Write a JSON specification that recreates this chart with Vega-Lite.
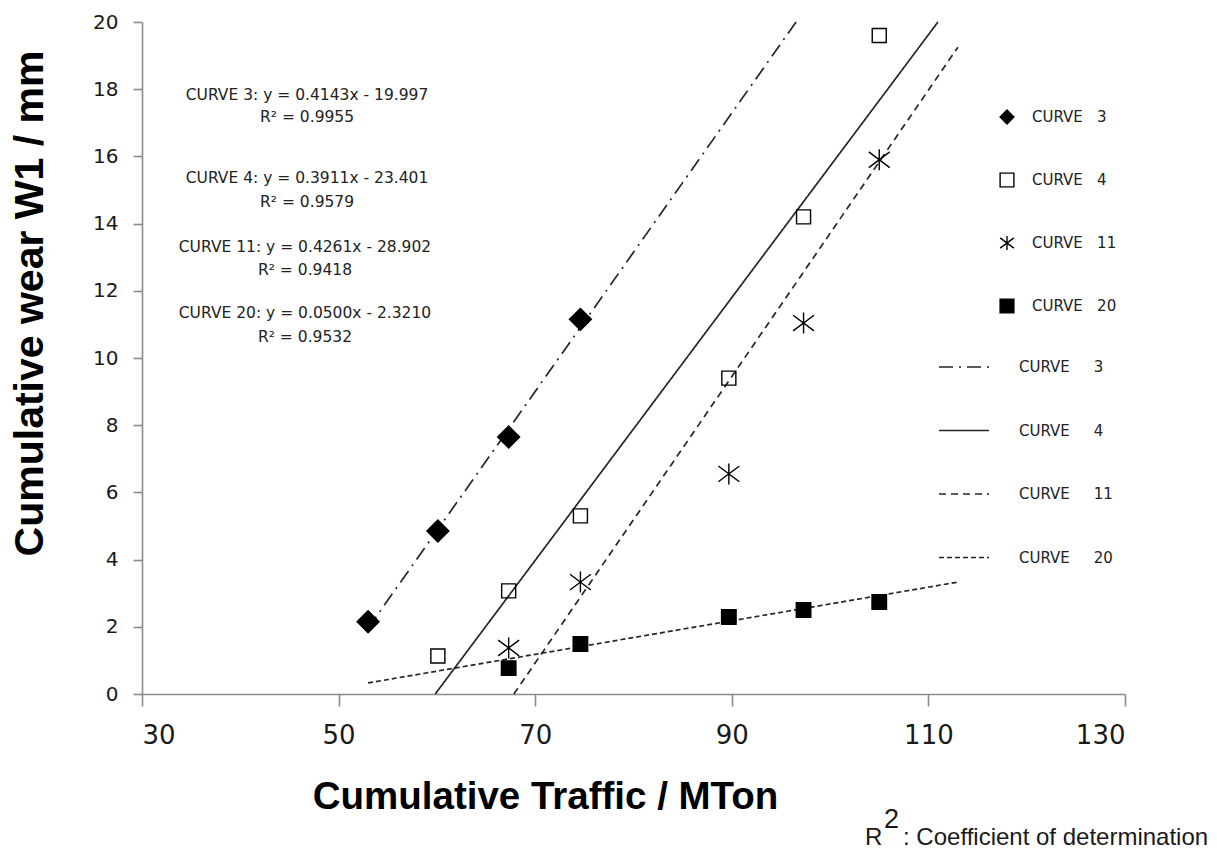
{
  "$schema": "https://vega.github.io/schema/vega-lite/v6.json",
  "width": 983,
  "height": 672,
  "autosize": {"type": "none"},
  "padding": {"left": 142, "top": 22, "right": 92, "bottom": 156},
  "background": "white",
  "config": {
    "view": {"stroke": null},
    "axis": {"grid": false},
    "legend": {"title": null, "orient": "none", "legendX": 857, "legendY": 87, "padding": 0, "symbolSize": 190, "symbolStrokeColor": "black", "symbolStrokeWidth": 1.4, "labelOffset": 17, "labelFont": "DejaVu Sans", "labelFontSize": 15, "labelColor": "#222222", "rowPadding": 43, "labelLimit": 300}
  },
  "datasets": {
    "pts": [
      {"x": 53.0, "y": 2.15, "c": "CURVE\u00a0\u00a0\u00a03"},
      {"x": 60.1, "y": 4.85, "c": "CURVE\u00a0\u00a0\u00a03"},
      {"x": 67.3, "y": 7.65, "c": "CURVE\u00a0\u00a0\u00a03"},
      {"x": 74.6, "y": 11.15, "c": "CURVE\u00a0\u00a0\u00a03"},
      {"x": 60.1, "y": 1.13, "c": "CURVE\u00a0\u00a0\u00a04"},
      {"x": 67.3, "y": 3.07, "c": "CURVE\u00a0\u00a0\u00a04"},
      {"x": 74.6, "y": 5.3, "c": "CURVE\u00a0\u00a0\u00a04"},
      {"x": 89.7, "y": 9.4, "c": "CURVE\u00a0\u00a0\u00a04"},
      {"x": 97.3, "y": 14.2, "c": "CURVE\u00a0\u00a0\u00a04"},
      {"x": 105.0, "y": 19.6, "c": "CURVE\u00a0\u00a0\u00a04"},
      {"x": 67.3, "y": 1.37, "c": "CURVE\u00a0\u00a0\u00a011"},
      {"x": 74.6, "y": 3.33, "c": "CURVE\u00a0\u00a0\u00a011"},
      {"x": 89.7, "y": 6.55, "c": "CURVE\u00a0\u00a0\u00a011"},
      {"x": 97.3, "y": 11.04, "c": "CURVE\u00a0\u00a0\u00a011"},
      {"x": 105.0, "y": 15.9, "c": "CURVE\u00a0\u00a0\u00a011"},
      {"x": 67.3, "y": 0.77, "c": "CURVE\u00a0\u00a0\u00a020"},
      {"x": 74.6, "y": 1.49, "c": "CURVE\u00a0\u00a0\u00a020"},
      {"x": 89.7, "y": 2.29, "c": "CURVE\u00a0\u00a0\u00a020"},
      {"x": 97.3, "y": 2.5, "c": "CURVE\u00a0\u00a0\u00a020"},
      {"x": 105.0, "y": 2.74, "c": "CURVE\u00a0\u00a0\u00a020"}
    ],
    "fits": [
      {"x": 53.0, "y": 1.96, "f": "CURVE\u00a0\u00a0\u00a0\u00a0\u00a03"},
      {"x": 96.54, "y": 20.0, "f": "CURVE\u00a0\u00a0\u00a0\u00a0\u00a03"},
      {"x": 59.83, "y": 0.0, "f": "CURVE\u00a0\u00a0\u00a0\u00a0\u00a04"},
      {"x": 110.97, "y": 20.0, "f": "CURVE\u00a0\u00a0\u00a0\u00a0\u00a04"},
      {"x": 67.83, "y": 0.0, "f": "CURVE\u00a0\u00a0\u00a0\u00a0\u00a011"},
      {"x": 113.0, "y": 19.25, "f": "CURVE\u00a0\u00a0\u00a0\u00a0\u00a011"},
      {"x": 53.0, "y": 0.33, "f": "CURVE\u00a0\u00a0\u00a0\u00a0\u00a020"},
      {"x": 113.0, "y": 3.33, "f": "CURVE\u00a0\u00a0\u00a0\u00a0\u00a020"}
    ],
    "notes": [
      {"x": 46.79, "y": 17.83, "t": "CURVE  3: y = 0.4143x  - 19.997"},
      {"x": 46.79, "y": 17.18, "t": "R² = 0.9955"},
      {"x": 46.79, "y": 15.35, "t": "CURVE  4: y = 0.3911x  - 23.401"},
      {"x": 46.79, "y": 14.65, "t": "R² = 0.9579"},
      {"x": 46.58, "y": 13.31, "t": "CURVE  11: y = 0.4261x  - 28.902"},
      {"x": 46.58, "y": 12.62, "t": "R² = 0.9418"},
      {"x": 46.58, "y": 11.33, "t": "CURVE  20: y = 0.0500x  - 2.3210"},
      {"x": 46.58, "y": 10.63, "t": "R² = 0.9532"}
    ],
    "foot": [
      {"x": 103.55, "y": -4.49, "t": "R"},
      {"x": 107.42, "y": -4.49, "t": ": Coefficient of determination"}
    ],
    "sup": [
      {"x": 105.48, "y": -3.99, "t": "2"}
    ]
  },
  "encoding": {
    "x": {
      "field": "x",
      "type": "quantitative",
      "scale": {"domain": [30, 130], "nice": false, "zero": false},
      "axis": {
        "title": "Cumulative Traffic / MTon",
        "values": [30, 50, 70, 90, 110, 130],
        "domainColor": "#8a8a8a",
        "domainWidth": 1.6,
        "tickColor": "#8a8a8a",
        "tickWidth": 1.6,
        "tickSize": 12,
        "labelFont": "DejaVu Sans",
        "labelFontSize": 26,
        "labelColor": "#1a1a1a",
        "labelPadding": 16,
        "titleFont": "Liberation Sans",
        "titleFontWeight": "bold",
        "titleFontSize": 38.5,
        "titleColor": "black",
        "titleX": 403,
        "titleY": 114,
        "titleAlign": "center",
        "titleBaseline": "alphabetic"
      }
    },
    "y": {
      "field": "y",
      "type": "quantitative",
      "scale": {"domain": [0, 20], "nice": false},
      "axis": {
        "title": "Cumulative wear W1 / mm",
        "values": [0, 2, 4, 6, 8, 10, 12, 14, 16, 18, 20],
        "domainColor": "#8a8a8a",
        "domainWidth": 1.6,
        "tickColor": "#8a8a8a",
        "tickWidth": 1.6,
        "tickSize": 9,
        "labelFont": "DejaVu Sans",
        "labelFontSize": 20,
        "labelColor": "#1a1a1a",
        "labelPadding": 15,
        "titleFont": "Liberation Sans",
        "titleFontWeight": "bold",
        "titleFontSize": 41,
        "titleColor": "black",
        "titleAngle": 270,
        "titleX": -100,
        "titleY": 281,
        "titleAlign": "center",
        "titleBaseline": "alphabetic"
      }
    }
  },
  "layer": [
    {
      "data": {"name": "fits"},
      "mark": {"type": "line", "color": "#262626", "strokeWidth": 1.7},
      "encoding": {
        "strokeDash": {
          "field": "f",
          "type": "nominal",
          "scale": {
            "domain": ["CURVE\u00a0\u00a0\u00a0\u00a0\u00a03", "CURVE\u00a0\u00a0\u00a0\u00a0\u00a04", "CURVE\u00a0\u00a0\u00a0\u00a0\u00a011", "CURVE\u00a0\u00a0\u00a0\u00a0\u00a020"],
            "range": [[14, 6, 2, 6], [1, 0], [7, 5], [5, 3]]
          },
          "legend": {
            "title": null,
            "orient": "none",
            "legendX": 796,
            "legendY": 319,
            "padding": 0,
            "symbolType": "stroke",
            "symbolSize": 2500,
            "symbolStrokeColor": "#262626",
            "symbolStrokeWidth": 1.7,
            "labelOffset": 29,
            "labelFont": "DejaVu Sans",
            "labelFontSize": 15,
            "labelColor": "#222222",
            "rowPadding": 29.5,
            "labelLimit": 300
          }
        }
      }
    },
    {
      "data": {"name": "pts"},
      "transform": [{"filter": {"field": "c", "equal": "CURVE\u00a0\u00a0\u00a03"}}],
      "mark": {"type": "point", "filled": true, "strokeWidth": 1.4, "opacity": 1, "size": 480},
      "encoding": {
        "shape": {"field": "c", "type": "nominal", "scale": {"domain": ["CURVE\u00a0\u00a0\u00a03", "CURVE\u00a0\u00a0\u00a04", "CURVE\u00a0\u00a0\u00a011", "CURVE\u00a0\u00a0\u00a020"], "range": ["diamond", "square", "M0,-1L0,1M-1,-0.75L1,0.75M-1,0.75L1,-0.75", "square"]}},
        "fill": {"field": "c", "type": "nominal", "scale": {"domain": ["CURVE\u00a0\u00a0\u00a03", "CURVE\u00a0\u00a0\u00a04", "CURVE\u00a0\u00a0\u00a011", "CURVE\u00a0\u00a0\u00a020"], "range": ["black", "transparent", "black", "black"]}},
        "stroke": {"field": "c", "type": "nominal", "scale": {"domain": ["CURVE\u00a0\u00a0\u00a03", "CURVE\u00a0\u00a0\u00a04", "CURVE\u00a0\u00a0\u00a011", "CURVE\u00a0\u00a0\u00a020"], "range": ["black", "black", "black", "black"]}}
      }
    },
    {
      "data": {"name": "pts"},
      "transform": [{"filter": {"field": "c", "equal": "CURVE\u00a0\u00a0\u00a04"}}],
      "mark": {"type": "point", "filled": true, "strokeWidth": 1.4, "opacity": 1, "size": 196},
      "encoding": {
        "shape": {"field": "c", "type": "nominal", "scale": {"domain": ["CURVE\u00a0\u00a0\u00a03", "CURVE\u00a0\u00a0\u00a04", "CURVE\u00a0\u00a0\u00a011", "CURVE\u00a0\u00a0\u00a020"], "range": ["diamond", "square", "M0,-1L0,1M-1,-0.75L1,0.75M-1,0.75L1,-0.75", "square"]}},
        "fill": {"field": "c", "type": "nominal", "scale": {"domain": ["CURVE\u00a0\u00a0\u00a03", "CURVE\u00a0\u00a0\u00a04", "CURVE\u00a0\u00a0\u00a011", "CURVE\u00a0\u00a0\u00a020"], "range": ["black", "transparent", "black", "black"]}},
        "stroke": {"field": "c", "type": "nominal", "scale": {"domain": ["CURVE\u00a0\u00a0\u00a03", "CURVE\u00a0\u00a0\u00a04", "CURVE\u00a0\u00a0\u00a011", "CURVE\u00a0\u00a0\u00a020"], "range": ["black", "black", "black", "black"]}}
      }
    },
    {
      "data": {"name": "pts"},
      "transform": [{"filter": {"field": "c", "equal": "CURVE\u00a0\u00a0\u00a011"}}],
      "mark": {"type": "point", "filled": true, "strokeWidth": 1.4, "opacity": 1, "size": 440},
      "encoding": {
        "shape": {"field": "c", "type": "nominal", "scale": {"domain": ["CURVE\u00a0\u00a0\u00a03", "CURVE\u00a0\u00a0\u00a04", "CURVE\u00a0\u00a0\u00a011", "CURVE\u00a0\u00a0\u00a020"], "range": ["diamond", "square", "M0,-1L0,1M-1,-0.75L1,0.75M-1,0.75L1,-0.75", "square"]}},
        "fill": {"field": "c", "type": "nominal", "scale": {"domain": ["CURVE\u00a0\u00a0\u00a03", "CURVE\u00a0\u00a0\u00a04", "CURVE\u00a0\u00a0\u00a011", "CURVE\u00a0\u00a0\u00a020"], "range": ["black", "transparent", "black", "black"]}},
        "stroke": {"field": "c", "type": "nominal", "scale": {"domain": ["CURVE\u00a0\u00a0\u00a03", "CURVE\u00a0\u00a0\u00a04", "CURVE\u00a0\u00a0\u00a011", "CURVE\u00a0\u00a0\u00a020"], "range": ["black", "black", "black", "black"]}}
      }
    },
    {
      "data": {"name": "pts"},
      "transform": [{"filter": {"field": "c", "equal": "CURVE\u00a0\u00a0\u00a020"}}],
      "mark": {"type": "point", "filled": true, "strokeWidth": 1.4, "opacity": 1, "size": 210},
      "encoding": {
        "shape": {"field": "c", "type": "nominal", "scale": {"domain": ["CURVE\u00a0\u00a0\u00a03", "CURVE\u00a0\u00a0\u00a04", "CURVE\u00a0\u00a0\u00a011", "CURVE\u00a0\u00a0\u00a020"], "range": ["diamond", "square", "M0,-1L0,1M-1,-0.75L1,0.75M-1,0.75L1,-0.75", "square"]}},
        "fill": {"field": "c", "type": "nominal", "scale": {"domain": ["CURVE\u00a0\u00a0\u00a03", "CURVE\u00a0\u00a0\u00a04", "CURVE\u00a0\u00a0\u00a011", "CURVE\u00a0\u00a0\u00a020"], "range": ["black", "transparent", "black", "black"]}},
        "stroke": {"field": "c", "type": "nominal", "scale": {"domain": ["CURVE\u00a0\u00a0\u00a03", "CURVE\u00a0\u00a0\u00a04", "CURVE\u00a0\u00a0\u00a011", "CURVE\u00a0\u00a0\u00a020"], "range": ["black", "black", "black", "black"]}}
      }
    },
    {
      "data": {"name": "notes"},
      "mark": {"type": "text", "font": "DejaVu Sans", "fontSize": 15.5, "color": "#222222", "align": "center", "baseline": "middle"},
      "encoding": {"text": {"field": "t"}}
    },
    {
      "data": {"name": "foot"},
      "mark": {"type": "text", "font": "Liberation Sans", "fontSize": 24, "color": "#1a1a1a", "align": "left", "baseline": "alphabetic"},
      "encoding": {"text": {"field": "t"}}
    },
    {
      "data": {"name": "sup"},
      "mark": {"type": "text", "font": "Liberation Sans", "fontSize": 27, "color": "#1a1a1a", "align": "left", "baseline": "alphabetic"},
      "encoding": {"text": {"field": "t"}}
    }
  ]
}
